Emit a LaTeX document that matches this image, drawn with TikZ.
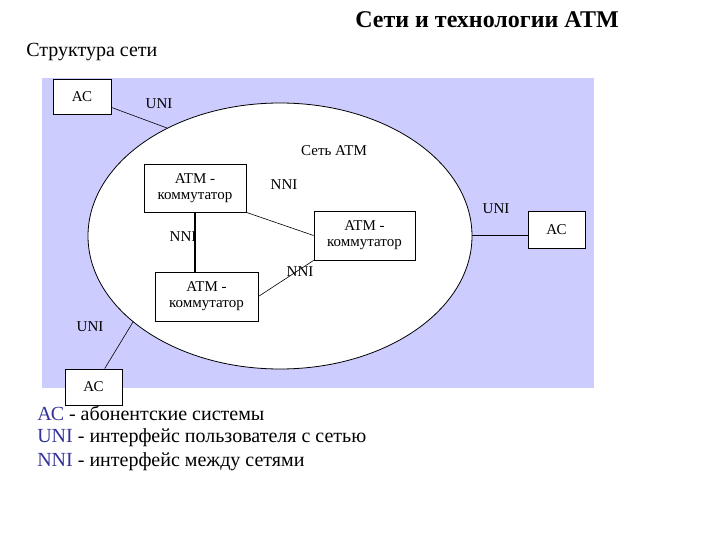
\documentclass[tikz,border=0pt]{standalone}
\usepackage{fontspec}
\setmainfont{Liberation Serif}
\usetikzlibrary{shapes.geometric}
\definecolor{netbg}{HTML}{CCCCFF}
\definecolor{termblue}{HTML}{333399}
\begin{document}
\begin{tikzpicture}[x=1pt,y=-1pt, semithick,
  box/.style={draw, thick, fill=white, inner sep=0pt, align=center, font=\fontsize{15}{16}\selectfont},
  lbl/.style={font=\fontsize{15}{16}\selectfont, inner sep=0pt},
  leg/.style={anchor=west, font=\fontsize{20}{22}\selectfont, inner sep=0pt}]
\useasboundingbox (0,0) rectangle (720,540);
\fill[netbg] (42,78) rectangle (594,388);
\node[draw, thick, fill=white, ellipse, minimum width=384, minimum height=266, inner sep=0pt] (net) at (280,236) {};
% boxes
\node[box, minimum width=58, minimum height=35] (ac1) at (82,96.5) {АС};
\node[box, minimum width=57, minimum height=37] (ac2) at (556.5,229.5) {АС};
\node[box, minimum width=57, minimum height=36] (ac3) at (93.5,387) {АС};
\node[box, minimum width=102, minimum height=48] (sw1) at (195,188) {ATM -\\коммутатор};
\node[box, minimum width=101, minimum height=49] (sw2) at (364.5,235.5) {ATM -\\коммутатор};
\node[box, minimum width=103, minimum height=49] (sw3) at (206.5,296.5) {ATM -\\коммутатор};
% connectors
\coordinate (e1) at (167,128);
\coordinate (e2) at (472,235);
\coordinate (e3) at (133,322);
\draw (ac1) -- (e1);
\draw (e2) -- (ac2.west |- e2);
\draw (e3) -- (ac3);
\draw (sw1.south east) -- (sw2.west);
\draw[very thick] (sw1.south) -- (sw3.north -| sw1.south);
\draw (sw3.east) -- (sw2.south west);
% labels
\node[lbl] (u1) at (159,104) {UNI};
\node[lbl] (cn) at (334,151) {Сеть ATM};
\node[lbl] (n1) at (284,185) {NNI};
\node[lbl] (u2) at (496,209) {UNI};
\node[lbl] (n2) at (183,237) {NNI};
\node[lbl] (n3) at (300,272) {NNI};
\node[lbl] (u3) at (90,327) {UNI};
% titles
\node[font=\fontsize{24}{26}\selectfont\bfseries, inner sep=0pt] (title) at (487,20) {Сети и технологии ATM};
\node[anchor=west, font=\fontsize{20}{22}\selectfont, inner sep=0pt] (sub) at (26,52) {Структура сети};
\node[leg] (l1) at (37,413) {\textcolor{termblue}{АС} - абонентские системы};
\node[leg] (l2) at (37,438) {\textcolor{termblue}{UNI} - интерфейс пользователя с сетью};
\node[leg] (l3) at (37,462) {\textcolor{termblue}{NNI} - интерфейс между сетями};
\end{tikzpicture}
\end{document}
